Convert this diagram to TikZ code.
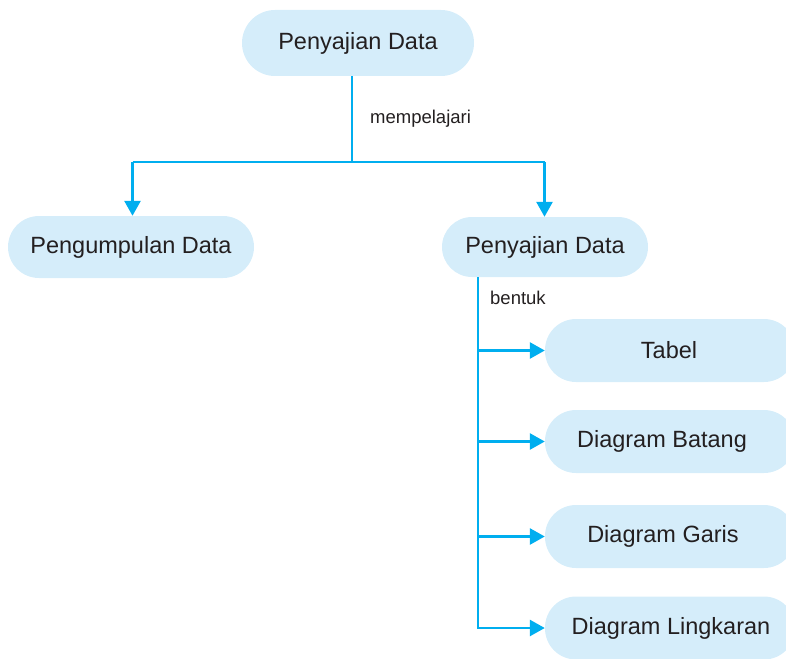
\documentclass[tikz,border=0pt]{standalone}
\usepackage{fontspec}
\setmainfont{Liberation Sans}
\usetikzlibrary{arrows.meta}
\definecolor{linec}{RGB}{0,174,239}
\definecolor{fillc}{RGB}{213,237,250}
\definecolor{txtc}{RGB}{35,31,32}
\begin{document}
\begin{tikzpicture}[x=1pt,y=-1pt,
  pill/.style={fill=fillc, draw=none, rounded corners=31pt, minimum height=62pt, inner sep=0pt, text=txtc, font=\fontsize{23.5}{28}\selectfont},
  rbox/.style={pill, minimum width=250pt, minimum height=63pt},
  btxt/.style={text=txtc, inner sep=0pt, font=\fontsize{23.5}{28}\selectfont},
  conn/.style={draw=linec, line width=2.7pt},
  arr/.style={conn, -{Triangle[length=15pt,width=16pt]}},
  lbl/.style={text=txtc, font=\fontsize{18.5}{22}\selectfont, inner sep=0pt, anchor=west}]
\clip (0,0) rectangle (786,658);
\node[pill, minimum width=232pt, minimum height=66pt, rounded corners=33pt] (top) at (358,43) {Penyajian Data};
\node[pill, minimum width=246pt] (kump) at (131,247) {Pengumpulan Data};
\node[pill, minimum width=206pt, minimum height=60pt, rounded corners=30pt] (saji) at (545,247) {Penyajian Data};
\node[rbox] (tabel) at (670,350.5) {};
\node[rbox] (batang) at (670,441.5) {};
\node[rbox] (garis) at (670,536.5) {};
\node[rbox] (lingk) at (670,628) {};
\node[btxt] (ttabel) at (669,350.5) {Tabel};
\node[btxt] (tbatang) at (662,441.5) {Diagram Batang};
\node[btxt] (tgaris) at (663,536.5) {Diagram Garis};
\node[btxt] (tlingk) at (671,628) {Diagram Lingkaran};
\node[lbl] (l1) at (370,119) {mempelajari};
\node[lbl] (l2) at (490,298) {bentuk};
\coordinate (a0) at (352,162);
\coordinate (aL) at (132.5,162);
\coordinate (aR) at (544.5,162);
\draw[conn] (top.south -| a0) -- (a0);
\draw[conn] (aL) -- (aR);
\draw[arr] (aL) -- (aL |- kump.north);
\draw[arr] (aR) -- (aR |- saji.north);
\coordinate (v) at (478,277);
\draw[conn] (saji.south -| v) -- (478,629.3);
\foreach \n in {tabel,batang,garis,lingk}{
  \draw[arr] (\n.west -| v) -- (\n.west);
}
\end{tikzpicture}
\end{document}
